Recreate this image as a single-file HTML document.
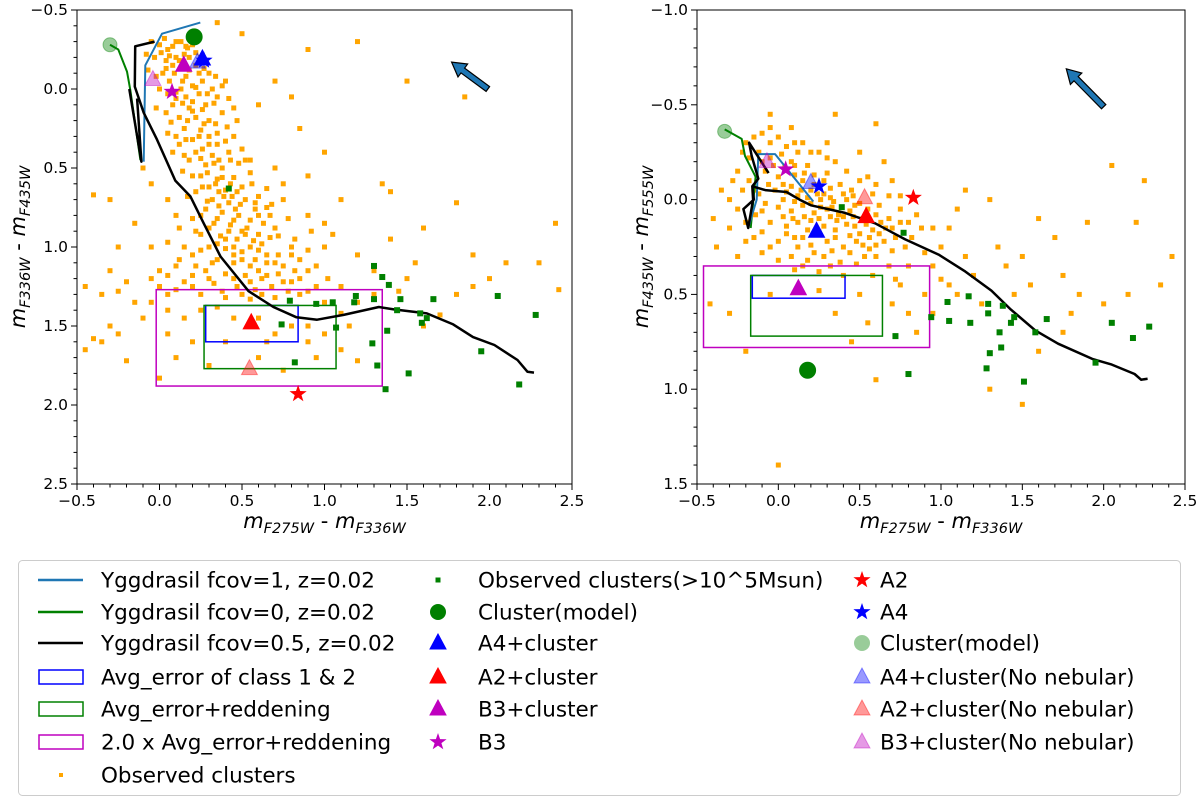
<!DOCTYPE html>
<html><head><meta charset="utf-8"><style>
html,body{margin:0;padding:0;background:#fff;}
svg{display:block;font-family:"DejaVu Sans","Liberation Sans",sans-serif;}
</style></head><body>
<svg id="chart" width="1200" height="801" viewBox="0 0 1200 801" xmlns="http://www.w3.org/2000/svg">
<g id="p1"></g>
<g id="p2"></g>
<g id="legend"></g>
</svg>
<script>
const NS="http://www.w3.org/2000/svg";
// ---- data: left panel ----
const leftOrange=[[0.05,-0.25],[0.1,-0.3],[0.15,-0.22],[0.2,-0.28],[0.25,-0.2],[0.08,-0.15],[0.12,-0.18],[0.18,-0.12],[0.22,-0.15],[0.3,-0.1],[0.02,-0.1],[0.06,-0.05],[0.14,-0.05],[0.2,-0.02],[0.26,-0.05],[0.32,0.0],[0.1,0.02],[0.16,0.05],[0.24,0.03],[0.35,0.05],[0.4,-0.05],[0.28,0.1],[0.18,0.12],[0.08,0.1],[0.12,0.18],[0.22,0.18],[0.3,0.2],[0.38,0.15],[0.45,0.12],[0.15,0.25],[0.25,0.26],[0.35,0.28],[0.2,0.32],[0.3,0.35],[0.4,0.33],[0.12,0.35],[0.22,0.4],[0.32,0.42],[0.42,0.4],[0.5,0.38],[0.18,0.45],[0.28,0.48],[0.38,0.5],[0.48,0.47],[0.25,0.55],[0.35,0.57],[0.45,0.56],[0.3,0.62],[0.4,0.64],[0.5,0.62],[0.22,0.65],[0.32,0.7],[0.42,0.72],[0.52,0.7],[0.6,0.68],[0.28,0.76],[0.38,0.78],[0.48,0.8],[0.58,0.76],[0.2,0.82],[0.33,0.85],[0.43,0.86],[0.53,0.88],[0.63,0.85],[0.7,0.88],[0.25,0.92],[0.37,0.93],[0.47,0.95],[0.57,0.96],[0.67,0.94],[0.3,1.0],[0.4,1.01],[0.5,1.03],[0.6,1.02],[0.72,1.05],[0.8,1.0],[0.2,1.05],[0.35,1.08],[0.45,1.1],[0.55,1.12],[0.65,1.1],[0.75,1.12],[0.85,1.08],[0.1,1.12],[0.28,1.15],[0.4,1.17],[0.52,1.18],[0.62,1.2],[0.72,1.17],[0.9,1.15],[0.15,1.22],[0.33,1.23],[0.47,1.25],[0.58,1.27],[0.68,1.25],[0.8,1.22],[0.95,1.25],[0.05,1.3],[0.25,1.3],[0.4,1.32],[0.55,1.33],[0.7,1.32],[0.85,1.3],[1.0,1.35],[0.1,-0.2],[0.16,-0.27],[0.04,-0.18],[0.24,-0.1],[0.1,0.06],[0.2,0.08],[0.3,0.3],[0.26,0.38],[0.36,0.45],[0.34,0.6],[0.44,0.68],[0.36,0.74],[0.46,0.76],[0.55,0.83],[0.42,0.9],[0.52,0.92],[0.62,0.98],[0.45,1.05],[0.58,1.08],[-0.4,0.67],[-0.45,1.25],[-0.35,1.3],[-0.2,1.22],[-0.3,1.5],[-0.45,1.65],[-0.25,1.55],[-0.1,1.45],[-0.4,1.58],[-0.2,1.72],[-0.05,1.35],[0.15,1.45],[0.2,1.6],[0.1,1.7],[0.3,1.75],[0.0,1.83],[0.25,1.4],[0.6,1.45],[0.7,1.55],[0.8,1.5],[0.9,1.6],[1.0,1.55],[1.1,1.65],[0.75,1.78],[1.2,1.72],[1.1,1.42],[1.2,1.35],[1.3,1.3],[1.45,1.28],[1.6,1.5],[1.7,1.43],[1.5,1.2],[1.3,1.15],[1.2,1.05],[1.0,0.85],[0.9,0.8],[1.05,0.92],[1.1,0.7],[1.4,0.95],[1.6,0.88],[1.35,0.6],[1.8,0.72],[1.9,1.05],[2.1,1.1],[2.0,1.2],[2.3,1.1],[2.4,0.85],[2.42,1.27],[1.85,0.05],[1.5,-0.05],[1.4,0.65],[1.2,-0.3],[1.0,0.4],[0.85,0.25],[0.8,0.05],[0.6,0.1],[0.7,-0.05],[0.9,-0.25],[0.5,-0.35],[0.35,-0.42],[0.9,0.55],[0.75,0.6],[0.65,0.75],[0.7,0.5],[0.55,0.45],[-0.1,0.5],[-0.05,0.6],[-0.3,0.7],[0.05,0.7],[-0.15,0.85],[-0.05,1.0],[0.0,1.15],[-0.3,1.15],[-0.25,1.0],[1.55,1.1],[1.8,1.3],[1.9,1.25]];
const leftOrangeDense=[[-0.05,-0.3],[0.0,-0.28],[0.03,-0.32],[0.08,-0.27],[0.13,-0.3],[0.17,-0.26],[0.22,-0.23],[-0.08,-0.22],[-0.03,-0.2],[0.01,-0.23],[0.06,-0.21],[0.18,-0.2],[0.28,-0.17],[-0.07,-0.12],[-0.02,-0.08],[0.04,-0.13],[0.09,-0.1],[0.16,-0.08],[0.27,-0.13],[0.34,-0.08],[0.38,-0.02],[0.0,0.0],[0.05,0.03],[0.13,0.0],[0.22,-0.01],[0.29,0.03],[-0.02,0.12],[0.04,0.15],[0.14,0.09],[0.2,0.14],[0.26,0.13],[0.33,0.09],[0.42,0.06],[0.47,0.2],[0.07,0.21],[0.17,0.2],[0.27,0.22],[0.34,0.22],[0.41,0.24],[0.05,0.28],[0.1,0.3],[0.16,0.32],[0.24,0.3],[0.35,0.35],[0.45,0.3],[0.52,0.45],[0.08,0.4],[0.15,0.42],[0.25,0.44],[0.33,0.47],[0.43,0.45],[0.55,0.53],[0.14,0.52],[0.2,0.55],[0.29,0.53],[0.38,0.56],[0.43,0.6],[0.26,0.62],[0.36,0.65],[0.47,0.65],[0.56,0.6],[0.65,0.63],[0.17,0.68],[0.29,0.71],[0.39,0.68],[0.49,0.73],[0.58,0.72],[0.68,0.73],[0.75,0.7],[0.1,0.8],[0.25,0.8],[0.35,0.82],[0.45,0.83],[0.6,0.8],[0.67,0.8],[0.78,0.82],[0.12,0.88],[0.22,0.9],[0.3,0.88],[0.4,0.95],[0.5,0.9],[0.6,0.92],[0.72,0.93],[0.82,0.95],[0.92,0.9],[0.05,0.97],[0.15,1.0],[0.25,1.02],[0.35,0.98],[0.45,1.0],[0.55,1.0],[0.65,1.05],[0.8,1.05],[0.9,1.02],[1.0,1.0],[0.12,1.08],[0.22,1.12],[0.32,1.1],[0.5,1.08],[0.6,1.15],[0.7,1.1],[0.82,1.15],[0.95,1.12],[-0.05,1.2],[0.05,1.18],[0.2,1.18],[0.3,1.2],[0.45,1.2],[0.55,1.22],[0.65,1.18],[0.75,1.22],[0.85,1.2],[1.02,1.2],[1.1,1.25],[0.0,1.25],[0.1,1.27],[0.2,1.25],[0.38,1.28],[0.5,1.3],[0.62,1.3],[0.78,1.28],[0.9,1.28],[-0.25,1.28],[-0.15,1.35],[0.05,1.4],[0.35,1.38],[0.45,1.45],[0.4,1.6],[0.65,1.6],[0.9,1.5],[0.95,1.7],[1.15,1.5],[-0.35,1.6],[0.05,1.55],[0.6,1.7]];
const leftGreen=[[1.30,1.12],[1.35,1.19],[1.39,1.24],[1.19,1.31],[1.18,1.35],[1.30,1.33],[1.46,1.33],[1.66,1.33],[2.05,1.31],[2.28,1.43],[1.62,1.45],[1.59,1.48],[1.58,1.42],[1.38,1.53],[1.29,1.61],[1.32,1.75],[1.51,1.80],[1.37,1.90],[1.95,1.66],[2.18,1.87],[0.79,1.34],[0.95,1.36],[1.05,1.35],[1.07,1.51],[0.74,1.49],[0.82,1.73],[0.42,0.63],[1.44,1.40]];
const leftBlack=[[-0.03,-0.30],[-0.147,-0.27],[-0.15,-0.015],[-0.096,0.15],[-0.015,0.32],[0.096,0.58],[0.187,0.68],[0.268,0.85],[0.37,1.06],[0.54,1.28],[0.69,1.38],[0.83,1.445],[0.955,1.46],[1.116,1.43],[1.33,1.38],[1.42,1.395],[1.62,1.42],[1.78,1.49],[1.90,1.57],[2.03,1.62],[2.17,1.715],[2.23,1.79],[2.27,1.795]];
const leftBlack2=[[-0.183,0.0],[-0.11,0.46],[-0.136,0.06]];
const leftGreenLine=[[-0.30,-0.28],[-0.25,-0.25],[-0.197,-0.11],[-0.177,0.006],[-0.116,0.45]];
const leftBlueLine=[[0.247,-0.42],[0.015,-0.35],[-0.086,-0.15],[-0.096,0.46]];
const leftMarkers=[
 ["circle",-0.30,-0.28,"#008000",0.4],["circle",0.21,-0.33,"#008000",1],
 ["tri",0.23,-0.17,"#0000ff",0.4],["tri",0.26,-0.19,"#0000ff",1],["star",0.27,-0.18,"#0000ff",1],
 ["tri",0.147,-0.15,"#bf00bf",1],["tri",-0.04,-0.06,"#bf00bf",0.4],["star",0.076,0.017,"#bf00bf",1],
 ["tri",0.556,1.48,"#ff0000",1],["tri",0.545,1.77,"#ff0000",0.4],["star",0.84,1.93,"#ff0000",1]];
const leftRects=[["#0000ff",0.28,0.84,1.37,1.60],["#008000",0.27,1.07,1.37,1.77],["#bf00bf",-0.02,1.35,1.27,1.88]];
const leftArrow=[[1.99,-0.0],[1.77,-0.17]];
// ---- data: right panel ----
const rightOrange=[[-0.2,-0.3],[-0.15,-0.33],[-0.1,-0.35],[-0.05,-0.3],[0,-0.33],[0.05,-0.28],[-0.12,-0.25],[-0.05,-0.22],[0.02,-0.24],[0.08,-0.2],[0.12,-0.25],[0.18,-0.18],[-0.25,-0.15],[-0.18,-0.1],[-0.08,-0.15],[0.0,-0.12],[0.1,-0.13],[0.15,-0.1],[0.22,-0.13],[0.28,-0.1],[0.32,-0.06],[0.38,-0.08],[0.45,-0.05],[-0.22,-0.05],[-0.12,-0.03],[-0.02,-0.05],[0.05,-0.04],[0.12,-0.02],[0.2,-0.05],[0.26,0.0],[0.34,0.01],[0.42,0.0],[0.5,0.02],[0.58,-0.03],[0.62,0.03],[-0.25,0.05],[-0.1,0.06],[0.0,0.04],[0.08,0.06],[0.15,0.03],[0.22,0.07],[0.3,0.05],[0.37,0.08],[0.44,0.06],[0.52,0.1],[0.6,0.08],[0.68,0.1],[-0.2,0.12],[-0.05,0.12],[0.05,0.14],[0.12,0.12],[0.18,0.16],[0.28,0.14],[0.35,0.16],[0.42,0.13],[0.5,0.18],[0.58,0.16],[0.66,0.15],[0.75,0.12],[-0.15,0.2],[0.0,0.22],[0.1,0.2],[0.2,0.24],[0.3,0.22],[0.4,0.25],[0.48,0.22],[0.56,0.26],[0.65,0.22],[0.72,0.2],[-0.1,0.28],[0.08,0.3],[0.18,0.32],[0.28,0.3],[0.38,0.33],[0.48,0.34],[0.6,0.3],[0.82,0.2],[0.85,0.08],[0.75,-0.02],[0.7,-0.1],[0.55,-0.12],[0.35,-0.2],[0.25,-0.25],[0.15,-0.3],[0.08,-0.38],[0.3,-0.3],[0.5,-0.25],[0.65,-0.2],[-0.35,-0.05],[-0.3,0.15],[-0.4,0.1],[-0.38,0.25],[0.1,0.37],[0.25,0.38],[0.4,0.4],[0.03,-0.08],[0.24,-0.03],[0.16,0.09],[0.36,0.11],[0.46,-0.02],[-0.42,0.55],[-0.3,0.6],[-0.05,0.5],[0.25,0.48],[0.5,0.5],[0.7,0.55],[0.8,0.6],[0.75,0.45],[0.9,0.5],[0.85,0.7],[0.95,0.35],[1.0,0.25],[1.05,0.15],[1.1,0.05],[1.15,0.3],[1.2,0.4],[1.25,0.55],[1.05,0.45],[0.95,0.6],[1.35,0.25],[1.4,0.35],[1.5,0.3],[1.6,0.1],[1.7,0.2],[1.45,0.5],[1.55,0.45],[1.75,0.4],[1.85,0.5],[1.8,0.6],[2.0,0.55],[2.05,-0.18],[2.25,-0.1],[2.2,0.12],[2.35,0.45],[2.42,0.3],[1.9,0.12],[1.3,0.0],[1.15,-0.05],[0.6,-0.4],[0.35,-0.45],[-0.05,-0.45],[0.6,0.95],[1.3,1.0],[1.5,1.08],[0.0,1.4],[1.75,0.7],[1.6,0.8],[2.15,0.5],[0.55,0.65],[0.35,0.6],[-0.2,0.8],[0.45,0.75]];
const rightOrangeDense=[[-0.18,-0.22],[-0.1,-0.2],[-0.03,-0.18],[0.04,-0.17],[0.1,-0.18],[0.16,-0.14],[0.22,-0.08],[0.3,-0.14],[-0.15,-0.05],[-0.06,-0.08],[0.08,-0.07],[0.14,-0.05],[0.18,-0.01],[0.28,-0.03],[0.32,-0.01],[0.4,-0.03],[0.47,0.03],[0.55,0.05],[-0.08,0.02],[0.03,0.0],[0.1,0.01],[0.2,0.02],[0.26,0.04],[0.33,0.04],[0.39,0.04],[0.46,0.09],[0.54,0.13],[0.63,0.12],[0.7,0.15],[-0.14,0.08],[0.03,0.09],[0.09,0.1],[0.2,0.11],[0.25,0.1],[0.32,0.09],[0.4,0.09],[0.47,0.14],[0.56,0.2],[0.62,0.18],[-0.1,0.17],[0.05,0.18],[0.15,0.2],[0.25,0.17],[0.35,0.2],[0.44,0.19],[0.52,0.24],[0.6,0.24],[0.7,0.27],[-0.05,0.25],[0.12,0.25],[0.22,0.28],[0.33,0.27],[0.44,0.28],[0.53,0.3],[0.0,0.32],[0.15,0.35],[0.32,0.35],[-0.25,0.3],[-0.2,0.22],[-0.3,0.0],[-0.28,-0.1],[-0.22,-0.25],[-0.05,-0.38],[0.1,-0.3],[0.2,-0.25],[0.3,-0.22],[0.42,-0.15],[0.5,-0.1],[0.6,-0.08],[0.68,-0.02],[0.75,0.05],[0.8,0.12],[0.88,0.15],[0.78,0.25],[0.68,0.35],[0.58,0.4],[0.8,0.35],[0.9,0.28],[1.0,0.42],[1.1,0.5],[0.95,0.15],[0.72,0.42]];
const rightGreen=[[0.39,0.04],[0.77,0.175],[1.04,0.54],[1.17,0.51],[1.05,0.64],[0.94,0.62],[1.18,0.65],[1.29,0.55],[1.38,0.56],[1.29,0.60],[1.45,0.62],[1.43,0.65],[1.36,0.70],[1.58,0.70],[1.65,0.63],[1.37,0.78],[1.30,0.81],[1.28,0.89],[1.51,0.96],[1.95,0.86],[2.05,0.65],[2.18,0.73],[2.28,0.67],[0.72,0.72],[0.80,0.92]];
const rightBlack=[[-0.06,-0.14],[-0.18,-0.30],[-0.164,-0.23],[-0.123,-0.11],[-0.16,-0.07],[-0.15,0.0],[-0.215,0.05],[-0.185,0.15],[-0.155,0.0],[-0.16,-0.07],[-0.08,-0.05],[0.05,-0.04],[0.13,0.0],[0.2,0.03],[0.41,0.07],[0.595,0.125],[0.78,0.21],[0.985,0.29],[1.15,0.38],[1.31,0.48],[1.43,0.58],[1.58,0.69],[1.72,0.76],[1.93,0.84],[2.05,0.87],[2.19,0.92],[2.23,0.95],[2.27,0.945]];
const rightGreenLine=[[-0.33,-0.37],[-0.225,-0.32],[-0.205,-0.23],[-0.14,-0.12],[-0.17,0.15]];
const rightBlueLine=[[0.215,0.01],[-0.02,-0.24],[-0.123,-0.24],[-0.133,0.0],[-0.185,0.15]];
const rightMarkers=[
 ["circle",-0.33,-0.36,"#008000",0.4],["circle",0.18,0.90,"#008000",1],
 ["tri",-0.07,-0.2,"#bf00bf",0.4],["star",0.045,-0.16,"#bf00bf",1],
 ["tri",0.2,-0.09,"#0000ff",0.4],["star",0.25,-0.07,"#0000ff",1],
 ["tri",0.53,-0.01,"#ff0000",0.4],["star",0.83,-0.01,"#ff0000",1],
 ["tri",0.54,0.09,"#ff0000",1],["tri",0.235,0.167,"#0000ff",1],["tri",0.123,0.47,"#bf00bf",1]];
const rightRects=[["#0000ff",-0.16,0.41,0.40,0.52],["#008000",-0.17,0.64,0.40,0.72],["#bf00bf",-0.46,0.93,0.35,0.78]];
const rightArrow=[[2.0,-0.49],[1.77,-0.69]];
const xTicks=[-0.5,0.0,0.5,1.0,1.5,2.0,2.5];
const leftYTicks=[-0.5,0.0,0.5,1.0,1.5,2.0,2.5];
const rightYTicks=[-1.0,-0.5,0.0,0.5,1.0,1.5];

function el(tag,attrs,parent){const e=document.createElementNS(NS,tag);for(const k in attrs)e.setAttribute(k,attrs[k]);parent.appendChild(e);return e;}
function starPts(cx,cy,R){let p=[];for(let i=0;i<10;i++){const r=i%2?R*0.4:R;const a=-Math.PI/2+i*Math.PI/5;p.push((cx+r*Math.cos(a)).toFixed(1)+","+(cy+r*Math.sin(a)).toFixed(1));}return p.join(" ");}
function fmt(v){return (v<0?"\u2212":"")+Math.abs(v).toFixed(1);}

function drawPanel(g,cfg){
 const X=v=>cfg.x0+(v-cfg.xmin)/(cfg.xmax-cfg.xmin)*cfg.w;
 const Y=v=>cfg.y0+(v-cfg.ymin)/(cfg.ymax-cfg.ymin)*cfg.h;
 const L=cfg.x0,T=cfg.y0,R=cfg.x0+cfg.w,B=cfg.y0+cfg.h;
 for(let v=Math.round(cfg.xmin*10);v<=Math.round(cfg.xmax*10);v++){
  const major=v%5===0; const x=X(v/10);
  const t=el("line",{x1:x,x2:x,y1:B,y2:B+(major?6:3.5),stroke:"#000","stroke-width":1},g);
  
  
 }
 xTicks.forEach(v=>{const t=el("text",{x:X(v),y:B+22,"text-anchor":"middle","font-size":15.5},g);t.textContent=fmt(v);
  
  });
 for(let v=Math.round(cfg.ymin*10);v<=Math.round(cfg.ymax*10);v++){
  const major=v%5===0; const y=Y(v/10);
  const t=el("line",{x1:L,x2:L-(major?6:3.5),y1:y,y2:y,stroke:"#000","stroke-width":1},g);
  
  
 }
 cfg.yTicks.forEach(v=>{const t=el("text",{x:L-9,y:Y(v)+5,"text-anchor":"end","font-size":15.5},g);t.textContent=fmt(v);
  
  });
 cfg.orange.forEach(p=>{const r=el("rect",{x:X(p[0])-2.5,y:Y(p[1])-2.5,width:5,height:5,fill:"#ffa500"},g);
  
  });
 cfg.rects.forEach(r=>{const e=el("rect",{x:X(r[1]),y:Y(r[3]),width:X(r[2])-X(r[1]),height:Y(r[4])-Y(r[3]),fill:"none",stroke:r[0],"stroke-width":1.5},g);
  
  });
 const line=(pts,col,w,name)=>{const e=el("polyline",{points:pts.map(p=>X(p[0]).toFixed(1)+","+Y(p[1]).toFixed(1)).join(" "),fill:"none",stroke:col,"stroke-width":w,"stroke-linejoin":"round"},g);
  
  };
 line(cfg.greenLine,"#008000",2,"yggdrasil-fcov0-line");
 line(cfg.blueLine,"#1f77b4",2,"yggdrasil-fcov1-line");
 line(cfg.black,"#000",2.5,"yggdrasil-fcov05-line");
 if(cfg.black2)line(cfg.black2,"#000",2.5,"yggdrasil-fcov05-branch");
 cfg.green.forEach(p=>{const r=el("rect",{x:X(p[0])-3,y:Y(p[1])-3,width:6,height:6,fill:"#008000"},g);
  
  });
 cfg.markers.forEach(m=>{const x=X(m[1]),y=Y(m[2]);let e;
  if(m[0]==="circle")e=el("circle",{cx:x,cy:y,r:m[4]<1?7:8,fill:m[3],"fill-opacity":m[4],stroke:m[3],"stroke-opacity":m[4]},g);
  else if(m[0]==="tri")e=el("polygon",{points:`${x},${y-9} ${x-8},${y+6} ${x+8},${y+6}`,fill:m[3],"fill-opacity":m[4],stroke:m[3],"stroke-opacity":m[4]},g);
  else e=el("polygon",{points:starPts(x,y,9),fill:m[3],"fill-opacity":m[4]},g);
  
  });
 const a=cfg.arrow,x1=X(a[0][0]),y1=Y(a[0][1]),x2=X(a[1][0]),y2=Y(a[1][1]);
 const dx=x2-x1,dy=y2-y1,len=Math.hypot(dx,dy),ux=dx/len,uy=dy/len,nx=-uy,ny=ux;
 const hl=14,hw=8,sw=3;const bx=x2-ux*hl,by=y2-uy*hl;
 const pts=[[x1+nx*sw,y1+ny*sw],[bx+nx*sw,by+ny*sw],[bx+nx*hw,by+ny*hw],[x2,y2],[bx-nx*hw,by-ny*hw],[bx-nx*sw,by-ny*sw],[x1-nx*sw,y1-ny*sw]];
 const ar=el("polygon",{points:pts.map(p=>p[0].toFixed(1)+","+p[1].toFixed(1)).join(" "),fill:"#1f77b4",stroke:"#000","stroke-width":1.2},g);
 
 
 const f=el("rect",{x:L,y:T,width:cfg.w,height:cfg.h,fill:"none",stroke:"#000","stroke-width":1},g);
 
 
 const xl=el("text",{x:L+cfg.w/2,y:B+44,"text-anchor":"middle","font-size":21},g);
 xl.innerHTML='<tspan font-style="italic">m</tspan><tspan font-size="14.5" dy="5" font-style="italic">F275W</tspan><tspan dy="-5"> - </tspan><tspan font-style="italic">m</tspan><tspan font-size="14.5" dy="5" font-style="italic">F336W</tspan>';
 
 
 const yl=el("text",{x:0,y:0,"text-anchor":"middle","font-size":21,transform:`translate(${cfg.ylx},${T+cfg.h/2}) rotate(-90)`},g);
 yl.innerHTML=`<tspan font-style="italic">m</tspan><tspan font-size="14.5" dy="5" font-style="italic">${cfg.yl1}</tspan><tspan dy="-5"> - </tspan><tspan font-style="italic">m</tspan><tspan font-size="14.5" dy="5" font-style="italic">${cfg.yl2}</tspan>`;
 
 
}
drawPanel(document.getElementById("p1"),{x0:77,y0:10,w:495,h:474,xmin:-0.5,xmax:2.5,ymin:-0.5,ymax:2.5,yTicks:leftYTicks,orange:leftOrange.concat(leftOrangeDense),green:leftGreen,black:leftBlack,black2:leftBlack2,greenLine:leftGreenLine,blueLine:leftBlueLine,markers:leftMarkers,rects:leftRects,arrow:leftArrow,ylx:25,yl1:"F336W",yl2:"F435W"});
drawPanel(document.getElementById("p2"),{x0:697,y0:10,w:488,h:474,xmin:-0.5,xmax:2.5,ymin:-1.0,ymax:1.5,yTicks:rightYTicks,orange:rightOrange.concat(rightOrangeDense),green:rightGreen,black:rightBlack,greenLine:rightGreenLine,blueLine:rightBlueLine,markers:rightMarkers,rects:rightRects,arrow:rightArrow,ylx:648,yl1:"F435W",yl2:"F555W"});

// ---- legend ----
const lg=document.getElementById("legend");
const box=el("rect",{x:18.5,y:560.5,width:1162,height:235,rx:4,fill:"#fff",stroke:"#ccc","stroke-width":1},lg);


const legendCols=[
 {mx:58,tx:101,items:[["line","#1f77b4","Yggdrasil fcov=1, z=0.02",580],["line","#008000","Yggdrasil fcov=0, z=0.02",612],["line","#000","Yggdrasil fcov=0.5, z=0.02",643],["rect","#0000ff","Avg_error of class 1 & 2",677],["rect","#008000","Avg_error+reddening",709],["rect","#bf00bf","2.0 x Avg_error+reddening",742],["osq","#ffa500","Observed clusters",775]]},
 {mx:438,tx:478,items:[["gsq","#008000","Observed clusters(>10^5Msun)",580],["circle","#008000","Cluster(model)",612,1],["tri","#0000ff","A4+cluster",643,1],["tri","#ff0000","A2+cluster",677,1],["tri","#bf00bf","B3+cluster",709,1],["star","#bf00bf","B3",742,1]]},
 {mx:862,tx:880,items:[["star","#ff0000","A2",580,1],["star","#0000ff","A4",612,1],["circle","#008000","Cluster(model)",643,0.4],["tri","#0000ff","A4+cluster(No nebular)",677,0.4],["tri","#ff0000","A2+cluster(No nebular)",709,0.4],["tri","#bf00bf","B3+cluster(No nebular)",742,0.4]]}];
legendCols.forEach(c=>c.items.forEach(it=>{
 const [k,col,label,y,op]=it;const g=el("g",{},lg);
 
 
 const x=c.mx;
 if(k==="line")el("line",{x1:38,x2:83,y1:y,y2:y,stroke:col,"stroke-width":2.5},g);
 else if(k==="rect")el("rect",{x:39,y:y-7,width:44,height:14,fill:"none",stroke:col,"stroke-width":1.5},g);
 else if(k==="osq")el("rect",{x:59,y:y-2,width:4,height:4,fill:col},g);
 else if(k==="gsq")el("rect",{x:x-2.5,y:y-2.5,width:5,height:5,fill:col},g);
 else if(k==="circle")el("circle",{cx:x,cy:y,r:8,fill:col,"fill-opacity":op},g);
 else if(k==="tri")el("polygon",{points:`${x},${y-9} ${x-8},${y+6} ${x+8},${y+6}`,fill:col,"fill-opacity":op,stroke:col,"stroke-opacity":op},g);
 else el("polygon",{points:starPts(x,y,9),fill:col,"fill-opacity":op},g);
 const t=el("text",{x:c.tx,y:y+7.5,"font-size":21.5},g);t.textContent=label;
}));
</script>
</body></html>
